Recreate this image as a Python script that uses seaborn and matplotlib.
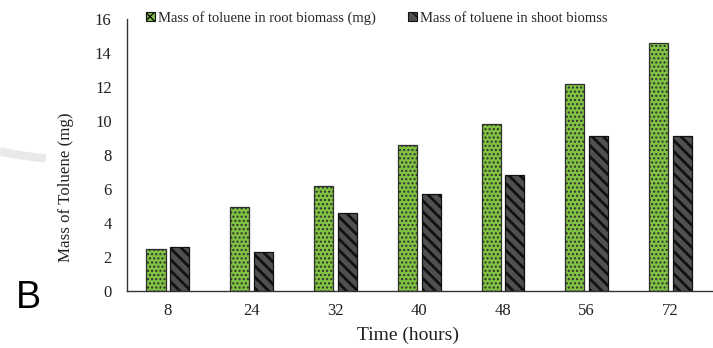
import matplotlib
matplotlib.use("Agg")
import matplotlib.pyplot as plt
import matplotlib.patches as mpatches
import numpy as np
import pandas as pd
import seaborn as sns

# Toluene mass measured in plant tissue over time
time_hours = ["8", "24", "32", "40", "48", "56", "72"]
root_mass = [2.45, 4.9, 6.15, 8.6, 9.8, 12.2, 14.6]
shoot_mass = [2.55, 2.3, 4.6, 5.7, 6.8, 9.1, 9.1]
series_names = ["Mass of toluene in root biomass (mg)",
                "Mass of toluene in shoot biomss"]
y_ticks = [0, 2, 4, 6, 8, 10, 12, 14, 16]

df = pd.DataFrame({
    "time": time_hours * 2,
    "mass": root_mass + shoot_mass,
    "series": [series_names[0]] * len(time_hours) + [series_names[1]] * len(time_hours),
})

sns.set_theme(style="white")
plt.rcParams["font.family"] = ["Liberation Serif", "DejaVu Serif"]
plt.rcParams["hatch.linewidth"] = 1.0

fig = plt.figure(figsize=(7.13, 3.48), dpi=100)
ax = fig.add_axes([0.178, 0.165, 0.82, 0.78])

green = "#80c343"
dark = "#505050"
sns.barplot(data=df, x="time", y="mass", hue="series", order=time_hours,
            hue_order=series_names, palette=[green, dark],
            width=0.57, gap=0.2, ax=ax, legend=False, saturation=1)

hatches = ["....", "\\\\\\"]
edges = ["#2e2e2e", "#111111"]
hatch_lw = [1.0, 2.0]
n = len(time_hours)
for i, bar in enumerate(ax.patches[:2 * n]):
    s = i // n
    bar.set_hatch(hatches[s])
    bar.set_edgecolor(edges[s])
    bar.set_linewidth(0.9)
    if hasattr(bar, "set_hatch_linewidth"):
        bar.set_hatch_linewidth(hatch_lw[s])

ax.set_ylim(0, 16)
ax.set_yticks(y_ticks)
ax.set_xlim(-0.49, 6.49)
ax.tick_params(axis="y", length=0, labelsize=12, colors="#222222", pad=11)
ax.tick_params(axis="x", length=0, labelsize=12, colors="#222222", pad=9)
for side in ["top", "right"]:
    ax.spines[side].set_visible(False)
for side in ["left", "bottom"]:
    ax.spines[side].set_color("#333333")
    ax.spines[side].set_linewidth(1.0)

ax.set_xlabel("Time (hours)", fontsize=14, color="#222222")
ax.set_ylabel("Mass of Toluene (mg)", fontsize=12.2, color="#222222")
ax.xaxis.set_label_coords(0.48, -0.134)
ax.yaxis.set_label_coords(-0.09, 0.38)

handles = [mpatches.Patch(facecolor=green, edgecolor="#111111", hatch="xx", linewidth=0.8),
           mpatches.Patch(facecolor=dark, edgecolor="#111111", hatch="\\\\", linewidth=0.8)]
fig.legend(handles, series_names, loc="center left", bbox_to_anchor=(0.196, 0.949),
           ncol=2, frameon=False, fontsize=10.5, handlelength=0.65, handleheight=0.65,
           handletextpad=0.2, columnspacing=2.2, borderaxespad=0)

# panel letter and faint decorative arc on the left margin
fig.text(0.022, 0.115, "B", fontsize=27, family=["Liberation Sans", "DejaVu Sans"],
         color="black", ha="left", va="baseline")
arc = mpatches.Arc((82, 588), 800, 800, theta1=258.2, theta2=264.8,
                   transform=None, color="#e9e9e9", linewidth=6)
fig.patches.append(arc)

fig.savefig("out.png", dpi=100)
